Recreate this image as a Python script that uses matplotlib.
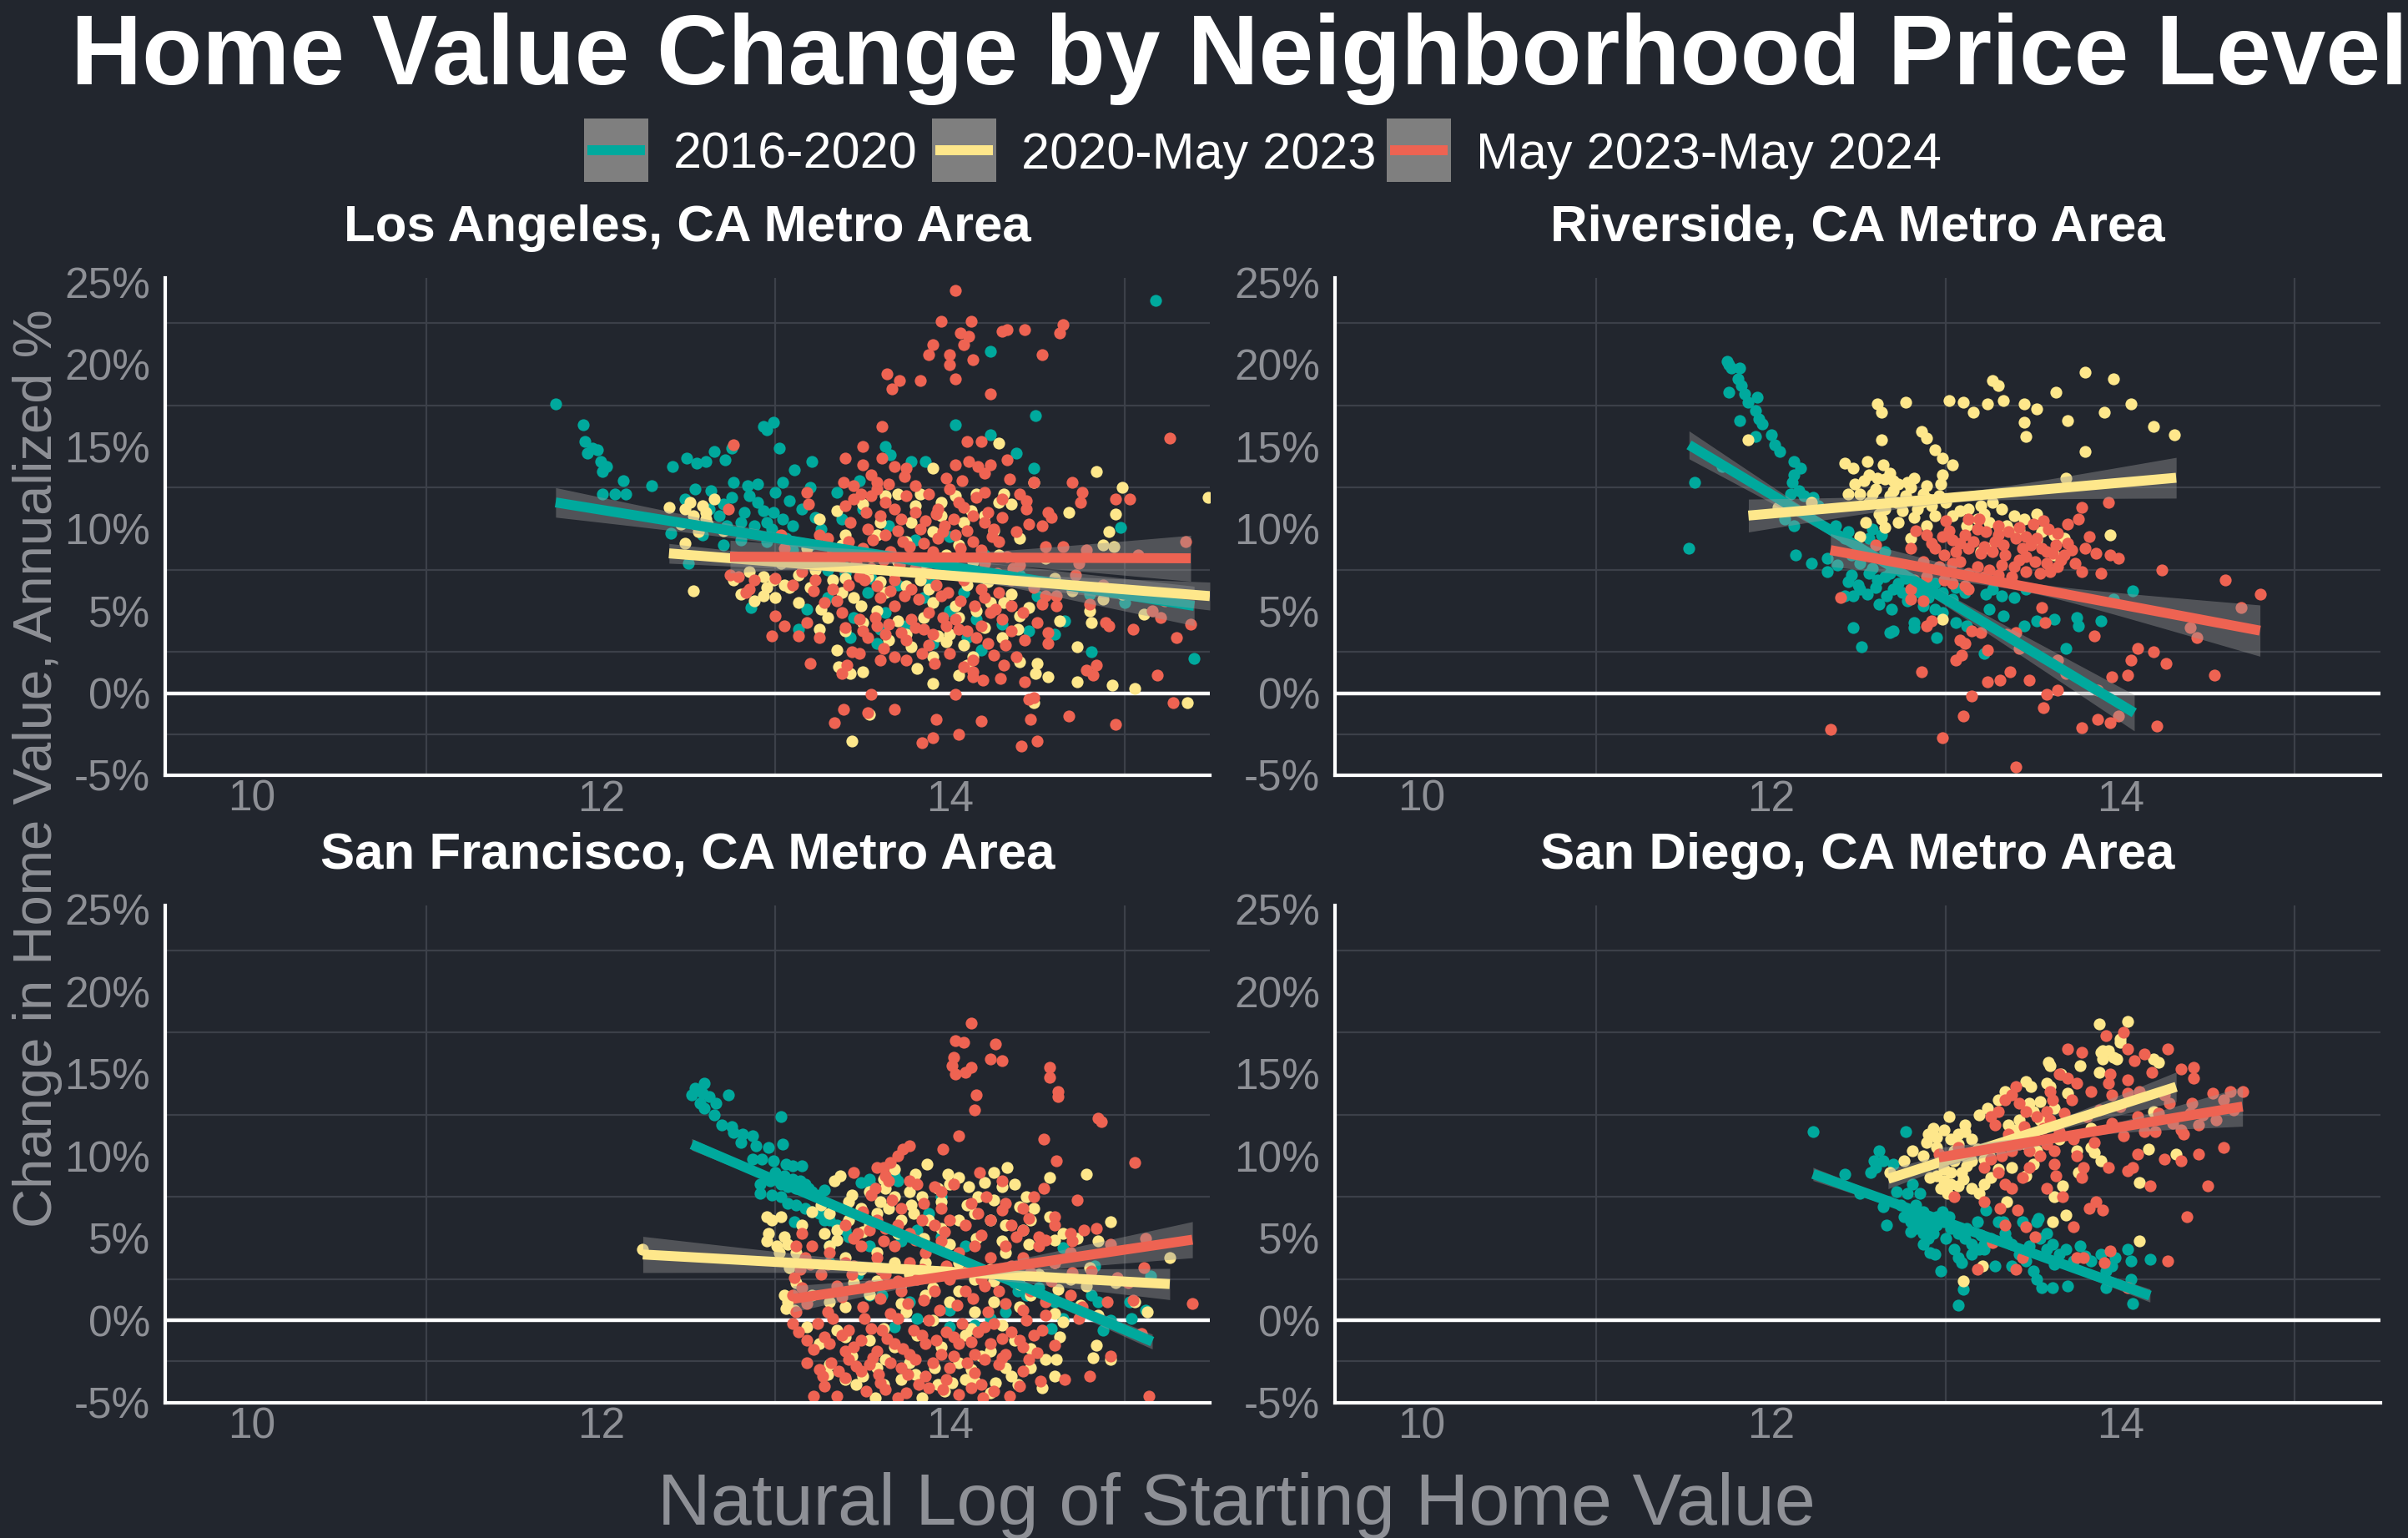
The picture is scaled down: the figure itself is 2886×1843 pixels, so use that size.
import numpy as np
import matplotlib.pyplot as plt
from matplotlib.patches import Rectangle
from matplotlib.lines import Line2D

plt.rcParams['font.family'] = ['Liberation Sans', 'DejaVu Sans']

#Chart labels
title = "Home Value Change by Neighborhood Price Level"
periods = ["2016-2020", "2020-May 2023", "May 2023-May 2024"]
metros = ["Los Angeles, CA Metro Area", "Riverside, CA Metro Area",
          "San Francisco, CA Metro Area", "San Diego, CA Metro Area"]
x_ticks = [10, 12, 14]
y_ticks = [-5, 0, 5, 10, 15, 20, 25]

#Points: (log of starting home value, annualized % change)
la_a = [(11.74,17.6),(11.90,16.3),(11.91,15.3),(11.95,14.9),(11.98,14.8),(11.92,14.6),(12.00,14.1),(12.03,13.8),
        (12.01,13.5),(12.13,12.9),(12.01,12.1),(12.08,12.1),(12.14,12.1),(12.29,12.6),(12.41,13.8),(12.49,14.3),
        (12.55,14.0),(12.60,14.1),(12.65,14.7),(12.71,14.2),(12.75,14.9),(12.93,16.2),(12.99,16.5),(12.95,16.0),
        (13.02,14.9),(12.40,9.7),(12.50,7.9),(12.48,11.8),(12.54,12.4),(12.63,12.3),(12.76,12.8),(12.84,12.6),
        (12.90,12.7),(12.85,12.0),(12.93,11.1),(12.99,11.0),(13.04,10.6),(12.98,10.0),(12.58,9.6),(12.68,10.8),
        (12.80,10.4),(12.88,10.2),(13.11,13.6),(13.21,14.1),(13.04,12.8),(13.08,11.7),(13.15,11.2),(13.23,10.7),
        (13.26,10.0),(13.38,10.6),(13.48,12.9),(13.63,15.0),(13.66,14.5),(13.78,14.1),(13.86,14.1),(14.23,15.7),
        (14.38,14.6),(14.48,13.7),(14.49,16.9),(14.03,16.3),(14.23,20.8),(15.18,23.9),(14.98,10.1),(15.40,2.1),
        (14.81,2.5),(14.18,2.6),(12.86,5.2),(14.66,4.4),(14.50,5.9),(13.38,8.0),(13.53,6.1),(13.63,4.9),
        (13.75,4.1),(13.88,6.9),(14.08,6.1),(13.43,3.4),(13.58,3.0),(13.20,9.0),(13.30,7.5),(14.20,7.0),
        (14.00,9.5),(13.13,3.9),(13.18,5.1),(12.70,11.5),(12.75,11.9),(12.90,11.6),(13.00,12.2),(12.82,11.0),
        (12.95,10.4),(13.10,10.2),(12.62,11.2),(12.72,10.2),(13.06,9.4),(13.10,8.7),(13.25,8.2),(13.40,7.3),
        (13.55,7.0),(13.70,6.6),(13.85,5.8),(14.00,5.0),(14.15,4.5),(14.30,4.2),(14.45,3.8),(14.60,3.6),
        (13.30,5.8),(13.45,4.6),(13.60,3.9),(13.90,3.0),(14.10,3.4),(12.95,9.2),(13.00,8.2),(12.70,9.0),
        (12.80,9.3),(13.20,12.5),(13.35,12.2),(13.50,11.2),(13.65,10.2),(13.80,9.3),(14.20,8.4),(14.40,7.2),
        (14.60,6.8),(14.80,6.0),(15.00,5.5)]
la_b = [(12.39,11.3),(12.48,11.2),(12.51,11.6),(12.53,10.8),(12.58,11.4),(12.60,11.0),(12.46,10.3),(12.54,10.3),
        (12.61,10.3),(12.48,9.1),(12.53,6.2),(12.76,6.9),(12.80,6.0),(12.93,5.9),(13.00,5.8),(12.99,6.9),
        (13.08,6.4),(13.13,5.5),(12.85,7.4),(12.93,7.1),(13.25,10.6),(13.35,11.1),(13.70,12.1),(13.83,12.1),
        (13.90,13.7),(14.15,12.1),(14.28,15.2),(14.28,11.6),(14.31,12.1),(14.35,11.5),(14.48,12.8),(14.68,11.0),
        (14.84,13.5),(14.99,12.5),(14.95,10.9),(14.91,9.8),(14.88,9.0),(14.94,8.9),(15.48,11.9),(14.88,5.7),
        (14.99,6.0),(14.81,4.3),(15.11,4.8),(14.63,4.4),(14.73,2.8),(14.73,0.7),(14.93,0.5),(15.06,0.3),
        (15.36,-0.6),(14.50,1.8),(14.40,1.9),(14.56,1.0),(14.48,-0.6),(14.49,1.2),(14.05,1.1),(13.90,0.6),
        (13.81,1.5),(13.50,1.3),(13.36,1.6),(13.43,1.2),(13.44,-2.9),(13.54,-1.3),(13.35,2.6),(13.40,3.8),
        (13.25,3.9),(13.26,5.1),(13.49,5.3),(13.63,6.1),(13.75,3.6),(13.78,2.8),(13.93,3.5),(13.98,3.1),
        (14.08,2.9),(14.13,2.2),(14.15,5.0),(14.23,5.5),(14.31,5.5),(14.39,3.9),(14.40,4.7),(13.33,6.9),
        (13.38,6.1),(13.53,7.1),(13.68,7.3),(13.83,6.9),(13.88,6.3),(14.03,5.3),(13.23,7.5),(13.13,7.2),
        (13.03,7.9),(13.18,8.8),(13.38,9.0),(13.58,9.6),(13.78,10.4),(13.95,10.8),(14.08,10.4),(14.20,10.8),
        (14.28,8.4),(14.13,8.0),(13.98,8.4),(13.80,11.4),(14.03,12.0),(13.63,12.0),(13.30,8.2),(13.45,8.4),
        (13.55,8.3),(13.70,8.0),(13.85,7.8),(14.00,7.3),(14.10,6.6),(14.22,6.8),(14.35,6.0),(14.45,5.2),
        (13.40,7.0),(13.60,6.8),(13.75,6.5),(13.90,5.5),(14.05,4.6),(14.20,4.0),(14.30,3.4),(13.45,5.8),
        (13.58,5.0),(13.70,4.4),(13.85,4.6),(14.00,3.6),(13.50,4.3),(13.65,3.2),(13.90,2.2),(14.10,1.7),
        (13.30,4.6),(13.20,6.4),(13.12,8.1),(13.05,6.6),(12.95,6.4),(12.88,5.6),(13.40,9.6),(13.60,10.4),
        (13.75,9.2),(13.90,9.8),(14.05,9.0),(14.25,9.9),(14.40,9.4),(14.55,8.2),(14.60,7.0),(14.70,6.2),
        (14.80,5.0),(13.95,11.6),(14.12,11.1),(13.50,11.5),(12.60,10.6),(12.65,11.8),(12.56,9.8),(12.70,9.9)]
la_c = [(14.03,24.5),(13.95,22.6),(14.12,22.6),(14.06,21.9),(14.11,21.7),(14.08,21.2),(13.90,21.2),(13.88,20.6),
        (14.00,20.6),(14.00,20.0),(14.13,20.3),(14.30,22.0),(14.33,22.1),(14.43,22.1),(14.53,20.6),(14.63,21.9),
        (14.65,22.4),(13.64,19.4),(13.71,19.0),(13.67,18.5),(13.83,19.0),(14.03,19.1),(14.23,18.2),(13.61,16.2),
        (12.76,15.1),(15.26,15.5),(13.50,15.0),(13.40,14.3),(13.50,13.9),(13.61,14.3),(13.68,13.8),(13.75,13.7),
        (13.74,13.2),(13.65,12.7),(13.55,13.3),(13.58,12.8),(13.39,12.8),(14.10,15.3),(14.18,15.3),(14.03,13.9),
        (14.11,14.1),(14.16,13.8),(14.23,13.9),(14.20,13.4),(13.98,13.1),(14.07,12.9),(14.34,13.0),(14.33,14.2),
        (14.48,12.8),(14.70,12.8),(14.76,12.2),(14.75,11.6),(14.40,12.1),(14.44,11.7),(14.44,11.2),(14.56,11.0),
        (14.58,10.7),(14.45,10.3),(14.53,10.2),(14.38,9.8),(14.95,11.8),(15.03,11.8),(15.35,9.2),(15.08,8.4),
        (14.55,8.9),(14.65,8.9),(14.78,8.7),(14.74,7.9),(14.72,7.2),(14.88,6.6),(14.80,5.4),(14.61,5.3),
        (14.53,5.4),(14.48,6.4),(14.55,5.9),(14.61,5.9),(14.50,4.3),(14.56,3.7),(14.89,4.3),(14.91,4.1),
        (15.05,3.9),(15.16,5.0),(15.21,4.6),(15.23,5.6),(15.30,3.4),(15.38,4.2),(15.19,1.1),(15.28,-0.6),
        (14.95,-1.9),(14.68,-1.4),(14.78,1.4),(14.82,1.1),(14.84,1.7),(14.48,-0.3),(14.45,-0.4),(14.46,-1.6),
        (14.50,-2.9),(14.41,-3.2),(14.43,0.7),(14.29,0.9),(14.31,1.7),(14.32,2.9),(14.43,3.2),(14.56,3.0),
        (14.19,0.8),(14.13,1.3),(14.13,2.0),(14.03,-0.1),(14.05,-2.5),(13.90,-2.7),(13.84,-3.0),(13.92,-1.6),
        (14.18,-1.7),(13.55,-0.1),(13.68,-1.0),(13.53,-1.2),(13.39,-1.0),(13.34,-1.8),(13.20,1.8),(12.98,3.5),
        (13.05,4.1),(13.00,4.7),(13.13,3.5),(13.41,1.7),(13.38,1.2),(13.44,2.5),(13.60,2.0),(13.68,2.2),
        (13.84,2.4),(13.91,1.8),(14.13,1.0),(12.74,7.2),(12.79,7.1),(12.85,6.3),(12.83,6.1),(12.88,6.9),
        (13.03,9.6),(13.05,8.8),(12.73,11.2),(13.18,12.2),(13.19,11.5),(13.25,9.6),(13.33,8.6),(13.40,11.4),
        (13.49,12.1),(13.55,12.0),(13.63,11.6),(13.75,12.0),(13.88,12.1),(13.93,11.2),(14.05,11.6),(14.13,10.8),
        (14.20,10.4),(14.25,10.0),(13.43,10.4),(13.53,10.0),(13.63,9.6),(13.73,9.2),(13.83,10.0),(13.93,9.4),
        (14.03,9.6),(14.13,9.2),(14.28,9.2),(13.38,7.7),(13.48,7.1),(13.58,6.5),(13.68,6.9),(13.78,6.3),
        (13.88,7.3),(13.98,7.5),(14.08,6.9),(14.18,6.3),(14.28,6.1),(14.35,6.9),(13.33,6.3),(13.28,5.5),
        (13.38,4.9),(13.48,4.5),(13.58,4.1),(13.68,5.3),(13.78,4.5),(13.88,4.9),(13.95,5.9),(14.03,4.5),
        (14.10,3.8),(14.18,4.1),(14.23,4.9),(14.30,4.5),(13.53,3.4),(13.63,3.6),(13.75,3.2),(13.85,3.9),
        (13.98,4.1),(13.25,3.4),(13.18,4.3),(13.23,6.9),(13.45,11.8),(13.52,11.0),(13.60,10.8),(13.68,11.2),
        (13.72,10.6),(13.80,11.0),(13.86,10.5),(13.92,10.9),(13.97,10.2),(14.02,10.6),(14.08,11.3),(14.15,11.9),
        (14.22,11.0),(14.30,10.7),(13.42,9.2),(13.50,8.8),(13.56,9.3),(13.66,8.6),(13.70,9.9),(13.77,8.9),
        (13.85,9.1),(13.90,8.6),(13.96,9.8),(14.06,8.8),(14.10,9.9),(14.18,8.7),(14.24,9.5),(14.33,8.3),
        (14.40,7.8),(13.36,8.3),(13.46,7.9),(13.55,7.6),(13.62,8.1),(13.71,7.8),(13.80,7.6),(13.87,8.2),
        (13.95,7.9),(14.02,7.7),(14.12,7.4),(14.20,7.9),(14.27,7.3),(14.36,7.6),(13.42,6.6),(13.51,6.9),
        (13.60,5.8),(13.66,6.2),(13.74,5.9),(13.82,5.7),(13.92,6.6),(13.99,6.1),(14.06,5.6),(14.14,5.3),
        (14.20,5.8),(14.26,5.1),(14.35,5.3),(14.42,4.9),(13.40,4.0),(13.50,3.8),(13.57,4.6),(13.65,4.2),
        (13.72,3.7),(13.80,4.0),(13.90,3.6),(13.96,4.6),(14.05,3.9),(14.15,3.4),(14.22,3.0),(14.35,3.8),
        (13.48,2.4),(13.62,2.7),(13.75,2.0),(13.88,2.9),(14.00,2.4),(14.08,1.6),(14.25,2.3),(14.38,2.2),
        (13.30,9.4),(13.26,8.1),(13.22,6.2),(13.35,5.6),(13.15,7.4),(13.10,6.6),(13.00,7.0),(13.45,12.6),
        (13.58,12.4),(13.80,12.6),(14.00,12.4),(14.20,12.2),(14.30,11.8)]

rv_a = [(11.75,20.2),(11.76,20.0),(11.82,19.8),(11.77,19.8),(11.81,19.1),(11.83,18.7),(11.85,18.2),(11.87,17.7),
        (11.92,18.0),(11.91,17.2),(11.82,16.6),(11.93,16.7),(11.95,16.4),(11.76,18.3),(11.91,15.6),(12.00,15.7),
        (12.02,15.1),(12.05,14.7),(12.13,14.1),(12.17,13.7),(12.13,13.3),(12.12,12.8),(12.16,12.3),(12.11,12.1),
        (12.19,12.0),(12.24,11.9),(12.27,11.4),(11.56,12.8),(11.53,8.8),(11.72,13.8),(12.05,11.1),(12.08,10.6),
        (12.13,10.2),(12.14,8.4),(12.23,7.9),(12.32,8.2),(12.32,7.4),(12.37,10.2),(12.44,9.8),(12.42,9.4),
        (12.46,8.4),(12.51,7.9),(12.56,9.4),(12.58,10.0),(12.63,9.6),(12.65,8.6),(12.56,7.3),(12.61,6.9),
        (12.65,7.1),(12.73,6.7),(12.44,6.8),(12.51,6.3),(12.47,5.9),(12.42,5.9),(12.62,5.4),(12.69,5.1),
        (12.75,6.1),(12.80,6.3),(12.85,6.1),(12.89,6.9),(12.94,6.7),(12.87,5.3),(12.94,5.1),(13.04,5.7),
        (13.11,6.1),(13.23,6.0),(13.27,6.3),(13.32,5.9),(13.39,5.8),(13.46,6.3),(13.25,5.1),(13.33,4.7),
        (12.82,4.3),(12.98,4.9),(13.06,4.3),(13.12,4.1),(12.47,4.0),(12.52,2.8),(12.68,3.7),(12.70,3.8),
        (12.82,4.0),(12.95,3.4),(13.22,2.4),(13.45,4.1),(13.52,4.4),(13.62,4.5),(13.75,4.6),(13.76,4.1),
        (13.89,4.4),(13.69,2.7),(14.07,6.2),(13.96,5.7),(12.50,6.6),(12.55,6.0),(12.60,6.4),(12.66,5.9),
        (12.70,6.3),(12.78,5.6),(12.83,6.8),(12.90,5.8),(12.98,6.1),(13.06,6.4),(12.58,7.6),(12.68,7.3),
        (12.77,7.0),(12.46,7.2),(12.38,7.8)]
rv_b = [(13.80,19.5),(13.96,19.1),(13.27,19.0),(13.30,18.7),(13.63,18.3),(13.33,17.8),(13.02,17.8),(13.10,17.7),
        (13.16,17.1),(13.24,17.6),(12.61,17.6),(12.63,17.1),(12.77,17.7),(13.45,17.6),(13.52,17.3),(13.91,17.1),
        (14.06,17.6),(13.45,16.5),(13.46,15.6),(13.70,16.6),(14.19,16.2),(14.31,15.7),(13.80,14.7),(11.87,15.4),
        (12.63,15.4),(12.86,15.9),(12.89,15.5),(12.94,14.8),(12.98,14.3),(13.04,13.9),(12.98,13.3),(12.97,12.7),
        (12.42,14.0),(12.47,13.7),(12.55,14.1),(12.64,13.9),(12.48,12.7),(12.53,12.9),(12.56,13.3),(12.61,13.1),
        (12.65,13.0),(12.70,12.9),(12.73,12.7),(12.82,13.1),(12.89,12.6),(12.44,12.1),(12.51,12.1),(12.58,12.1),
        (12.68,12.0),(12.77,12.0),(12.87,12.1),(12.96,12.0),(12.56,11.6),(12.65,11.2),(12.75,11.1),(12.84,11.2),
        (12.94,10.8),(13.04,10.8),(13.13,11.2),(13.20,11.4),(13.27,11.6),(13.32,11.2),(13.18,10.6),(13.25,10.4),
        (13.39,10.8),(13.45,10.6),(13.52,10.9),(12.54,10.4),(12.63,10.6),(12.65,10.1),(12.73,10.4),(12.89,10.2),
        (12.80,9.4),(12.51,9.5),(12.04,11.3),(12.23,11.6),(13.69,13.1),(13.94,9.6),(13.62,9.6),(13.62,8.4),
        (13.68,9.4),(13.52,9.3),(13.31,9.9),(13.38,9.8),(12.98,4.5),(13.20,8.6),(13.25,8.8),(12.60,12.4),
        (12.70,12.3),(12.80,12.5),(12.90,11.8),(12.62,10.9),(12.72,11.6),(12.82,10.7),(12.92,11.4),(13.00,11.6),
        (13.08,11.1),(13.12,10.2),(13.22,10.9),(12.78,12.8),(12.68,13.4),(12.86,11.6),(13.35,10.2),(13.42,9.9),
        (13.55,9.8)]
rv_c = [(13.93,11.6),(13.78,11.3),(13.76,10.6),(13.00,10.5),(13.13,10.6),(13.19,10.6),(13.50,10.3),(13.56,10.5),
        (13.59,10.0),(13.64,9.7),(12.83,9.9),(12.89,9.6),(12.80,8.8),(12.98,9.5),(13.04,9.3),(13.11,9.6),
        (13.18,10.0),(13.23,9.8),(13.30,9.6),(13.36,9.8),(13.40,9.4),(13.46,9.5),(13.49,9.0),(13.55,8.8),
        (13.61,8.5),(13.68,8.4),(13.70,9.1),(13.82,9.5),(13.80,8.8),(13.86,8.5),(13.94,8.4),(13.99,8.2),
        (12.94,8.8),(12.99,8.4),(13.06,8.6),(13.13,8.8),(13.20,8.5),(13.27,8.6),(13.34,8.4),(13.42,8.1),
        (13.51,8.0),(13.58,7.9),(13.64,7.7),(13.08,8.0),(13.18,7.7),(13.25,7.5),(13.32,7.8),(13.39,7.7),
        (13.46,7.4),(13.54,7.3),(12.87,8.0),(12.82,6.9),(12.89,7.1),(12.99,6.9),(13.04,6.7),(13.11,6.5),
        (13.13,6.3),(13.78,7.4),(13.89,7.3),(14.24,7.5),(14.60,6.9),(14.80,6.0),(14.69,5.2),(14.40,4.0),
        (14.44,3.4),(14.54,1.1),(14.21,-2.0),(13.78,-2.1),(13.87,-1.6),(13.94,-1.8),(13.99,-1.4),(13.87,0.2),
        (13.95,1.0),(14.04,1.1),(14.06,2.0),(14.10,2.7),(14.19,2.5),(14.26,1.8),(13.85,3.5),(13.64,2.0),
        (13.69,1.2),(13.64,0.2),(13.58,-0.1),(13.56,-0.9),(13.48,0.8),(13.37,1.3),(13.31,0.8),(13.24,0.7),
        (13.40,3.7),(13.35,3.6),(13.42,2.7),(13.24,2.6),(13.57,4.3),(13.55,5.2),(13.15,3.8),(13.20,3.7),
        (13.08,3.2),(13.11,3.0),(13.09,2.3),(13.06,2.0),(13.15,-0.2),(13.10,-1.4),(12.98,-2.7),(13.40,-4.5),
        (12.86,1.3),(12.34,-2.2),(12.40,5.8),(12.80,5.7),(12.87,5.6),(12.92,4.4),(12.89,4.1),(12.60,9.0),
        (12.80,6.3),(12.92,9.1),(13.02,9.9),(13.08,9.1),(13.16,9.2),(13.22,8.9),(13.28,9.2),(13.33,9.0),
        (13.44,8.8),(13.52,9.4),(13.58,8.6),(13.63,9.0),(13.72,8.7),(12.96,7.7),(13.04,7.9),(13.13,7.3),
        (13.22,7.1),(13.30,7.2),(13.38,7.1),(13.46,8.3),(13.60,7.4),(13.66,8.1),(13.74,7.9),(13.70,10.3),
        (13.30,10.2),(13.42,10.1)]

sf_a = [(12.59,14.4),(12.54,14.1),(12.52,13.7),(12.58,13.8),(12.62,13.6),(12.66,13.2),(12.73,13.7),(12.57,13.2),
        (12.59,12.9),(12.65,12.5),(12.69,11.9),(12.75,11.8),(12.76,11.4),(12.81,11.3),(12.87,11.2),(12.80,10.8),
        (12.89,10.6),(12.96,10.5),(13.04,10.7),(13.03,12.4),(12.87,9.8),(12.92,9.8),(12.99,9.7),(13.06,9.5),
        (13.10,9.4),(13.15,9.4),(13.00,9.0),(13.05,8.8),(13.10,8.6),(13.14,8.5),(12.97,8.5),(13.03,8.3),
        (13.07,8.1),(13.12,8.0),(13.17,8.3),(13.19,8.0),(13.21,7.8),(13.25,7.6),(13.28,7.9),(12.91,8.3),
        (12.91,7.7),(12.98,7.6),(13.03,7.5),(13.07,7.1),(13.12,7.0),(13.17,6.8),(13.21,6.6),(13.25,6.5),
        (13.31,6.1),(13.35,5.8),(13.11,6.0),(13.49,8.4),(13.54,8.6),(13.55,8.2),(13.68,8.8),(13.70,8.5),
        (13.28,6.1),(13.40,5.5),(13.42,5.1),(13.54,4.5),(13.61,1.5),(13.77,1.1),(14.00,0.6),(14.14,-0.3),
        (14.23,0.1),(14.39,1.8),(14.44,1.5),(14.58,-0.5),(14.65,0.1),(14.83,3.3),(14.81,1.5),(14.85,1.1),
        (14.88,-0.6),(14.92,0.0),(15.03,1.1),(15.12,0.6),(15.15,2.7),(15.04,0.1),(14.65,4.4),(14.37,2.3),
        (14.09,4.5),(13.95,5.1),(13.81,5.5),(13.72,4.8),(13.58,3.3),(14.14,3.1),(14.28,2.8),(14.51,2.0),
        (14.60,1.1),(13.47,2.8),(13.31,3.5),(13.88,6.5),(13.95,7.5),(13.31,4.5),(13.54,1.5),(13.68,-0.4),
        (13.81,0.1),(14.00,-0.4),(14.32,0.5)]
sf_b = [(12.24,4.3),(12.95,6.3),(12.98,6.1),(13.03,6.3),(13.05,5.1),(12.96,5.3),(12.95,4.8),(13.01,4.5),
        (13.02,4.1),(13.07,4.6),(13.12,4.1),(13.05,1.5),(13.07,1.1),(13.11,0.6),(13.06,0.7),(13.18,-0.4),
        (13.25,-1.4),(13.31,-2.7),(13.40,-3.6),(13.46,-3.9),(13.57,-4.7),(13.63,-2.4),(13.72,-3.6),(13.84,-4.7),
        (13.93,-3.9),(14.01,-3.8),(14.09,-3.6),(14.14,-3.7),(14.23,-4.4),(14.26,-3.8),(14.39,-3.9),(14.53,-4.1),
        (14.46,-2.9),(14.55,-2.4),(14.61,-2.4),(14.82,-2.3),(14.84,-1.5),(14.63,-1.0),(14.65,-0.1),(15.13,0.5),
        (15.26,3.8),(14.92,6.0),(14.78,8.9),(14.57,8.7),(14.33,9.3),(14.25,9.0),(13.99,8.9),(13.87,9.5),
        (13.68,9.2),(13.37,8.8),(13.34,8.5),(13.44,7.6),(13.54,7.8),(13.63,8.0),(13.68,7.5),(13.77,7.8),
        (13.84,7.5),(13.93,8.0),(14.00,8.3),(14.11,8.1),(14.16,7.5),(14.30,8.1),(14.37,8.3),(14.44,7.5),
        (14.48,6.8),(14.57,6.3),(14.73,5.0),(14.85,4.8),(14.65,5.3),(13.21,6.6),(13.26,7.0),(13.31,6.5),
        (13.35,5.5),(13.42,6.1),(13.49,6.8),(13.54,5.8),(13.58,6.5),(13.65,6.8),(13.72,6.1),(13.79,6.5),
        (13.88,6.1),(13.95,5.6),(14.05,6.1),(14.14,6.5),(14.23,6.1),(14.32,5.8),(14.42,5.5),(14.46,6.1),
        (13.31,4.5),(13.40,3.8),(13.49,3.1),(13.58,4.1),(13.68,3.5),(13.77,2.8),(13.86,3.5),(13.95,2.8),
        (14.05,3.5),(14.14,2.5),(14.23,3.1),(14.32,4.1),(14.42,3.5),(14.51,2.8),(14.60,3.5),(14.69,2.5),
        (14.78,2.1),(14.95,2.3),(15.06,1.1),(13.21,1.5),(13.31,1.1),(13.40,0.8),(13.54,1.6),(13.72,1.0),
        (13.86,1.5),(14.00,1.1),(14.14,0.5),(14.25,1.1),(14.46,1.5),(13.35,-0.6),(13.54,-1.2),(13.68,-1.6),
        (13.81,-0.9),(13.95,-1.6),(14.09,-0.9),(14.23,-1.9),(14.37,-1.2),(14.46,-1.7),(13.44,-2.2),(13.58,-2.9),
        (13.77,-2.6),(13.91,-2.9),(14.05,-2.6),(14.18,-2.2),(14.32,-2.9),(14.92,-2.4),(13.30,-3.3),(13.50,-3.4),
        (13.62,-3.9),(13.80,-3.3),(13.97,-4.3),(14.12,-3.0),(14.35,-3.4),(14.60,-3.4),(13.40,-1.0),(13.62,-0.5),
        (13.75,0.5),(13.90,0.0),(14.12,-0.5),(14.30,-0.3),(14.40,0.8),(14.60,0.4),(14.75,0.9),(14.85,0.3),
        (13.45,2.3),(13.58,2.4),(13.72,2.2),(13.90,2.0),(14.05,1.8),(14.25,2.4),(14.40,2.2),(14.62,1.9),
        (14.80,3.2),(13.35,4.9),(13.50,5.4),(13.70,5.3),(13.85,5.0),(14.00,4.6),(14.15,5.0),(14.30,4.8),
        (14.45,4.6),(14.60,4.9),(13.42,7.2),(13.60,7.2),(13.78,7.0),(13.95,7.2),(14.10,7.0),(14.25,7.3),
        (14.40,6.9),(13.62,8.6),(13.80,8.9),(14.05,8.7),(14.20,8.4),(13.28,5.3),(13.15,5.8),(13.08,3.2),
        (13.12,2.3)]
sf_c = [(14.12,18.1),(14.03,17.0),(14.08,16.9),(14.26,16.8),(14.02,16.0),(14.23,15.9),(14.30,15.8),(14.09,15.1),
        (14.12,15.4),(14.01,15.5),(14.03,15.0),(14.57,15.4),(14.57,14.8),(14.62,13.9),(14.62,13.6),(14.15,13.7),
        (14.14,12.8),(14.85,12.3),(14.54,11.0),(14.61,9.7),(15.06,9.6),(14.87,12.1),(14.05,11.2),(13.96,10.4),
        (14.17,9.0),(13.77,10.6),(13.73,10.4),(13.70,10.0),(13.66,9.6),(13.62,9.3),(13.58,9.3),(13.63,8.8),
        (13.57,8.0),(13.77,8.5),(13.81,8.3),(13.91,8.1),(13.95,7.8),(14.02,8.3),(14.21,7.5),(14.32,7.1),
        (14.42,6.8),(14.48,7.5),(14.54,8.0),(14.60,6.3),(14.30,8.5),(14.73,7.3),(13.15,5.3),(13.12,4.5),
        (13.17,3.8),(13.14,3.1),(13.11,2.6),(13.15,2.0),(13.10,1.5),(13.12,0.5),(13.10,-0.2),(13.13,-0.7),
        (13.18,-1.2),(13.18,-2.6),(13.22,-4.6),(13.35,-4.6),(13.27,-3.4),(13.32,-2.6),(13.42,-2.4),(13.49,-3.1),
        (13.59,-3.3),(13.63,-4.2),(13.70,-4.7),(13.76,-3.3),(13.88,-4.1),(13.96,-4.2),(14.12,-4.1),(14.19,-4.7),
        (14.34,-4.6),(14.52,-3.7),(14.66,-3.6),(14.80,-3.4),(15.14,-4.6),(14.92,-2.2),(14.60,-1.5),(15.10,-0.8),
        (15.39,1.0),(15.05,1.2),(14.90,1.1),(15.11,3.2),(15.02,2.3),(14.96,2.6),(14.81,3.0),(15.12,5.0),
        (14.92,4.6),(14.84,5.6),(14.77,5.5),(14.69,5.3),(13.40,5.8),(13.47,5.3),(13.54,5.5),(13.58,6.1),
        (13.63,5.6),(13.70,5.8),(13.77,5.3),(13.84,6.1),(13.91,5.8),(14.00,6.1),(14.09,5.8),(14.16,6.5),
        (14.23,6.1),(14.35,5.8),(14.42,5.5),(14.51,5.1),(14.60,5.8),(13.21,4.5),(13.31,4.1),(13.40,3.5),
        (13.49,4.5),(13.58,3.8),(13.68,4.5),(13.77,3.5),(13.86,4.1),(13.95,4.8),(14.05,4.1),(14.14,4.5),
        (14.23,3.8),(14.32,4.5),(14.42,3.8),(14.51,4.5),(14.60,3.5),(14.69,4.1),(13.26,2.8),(13.35,2.1),
        (13.44,2.8),(13.54,2.1),(13.63,2.8),(13.72,1.8),(13.81,2.5),(13.91,1.8),(14.00,2.5),(14.09,1.8),
        (14.18,2.5),(14.28,1.8),(14.37,2.5),(14.46,1.8),(14.55,1.1),(14.69,1.5),(14.76,0.8),(13.24,-0.2),
        (13.33,0.1),(13.42,-0.6),(13.51,0.1),(13.61,-0.6),(13.70,0.1),(13.79,-0.6),(13.88,0.0),(13.98,-0.7),
        (14.07,-0.2),(14.16,-0.7),(14.25,-0.2),(14.35,-0.7),(14.44,0.0),(14.53,-0.6),(14.74,0.1),(13.31,-1.4),
        (13.40,-1.9),(13.49,-1.2),(13.58,-1.9),(13.68,-1.4),(13.77,-2.1),(13.86,-1.4),(13.95,-2.1),(14.05,-1.4),
        (14.14,-2.1),(14.23,-1.4),(14.32,-2.1),(14.42,-1.6),(14.48,-0.9),(13.54,-2.7),(13.72,-2.9),(13.86,-3.4),
        (14.00,-2.9),(14.14,-3.2),(14.28,-2.7),(14.42,-3.1),(13.28,-4.0),(13.40,-3.5),(13.52,-4.3),(13.60,-3.8),
        (13.75,-4.4),(13.82,-3.9),(13.98,-3.6),(14.05,-4.5),(14.18,-3.9),(14.25,-4.3),(14.40,-4.0),(14.45,-2.4),
        (13.36,-3.1),(13.46,-2.8),(13.56,-2.3),(13.66,-2.6),(13.80,-2.4),(13.90,-2.6),(14.02,-2.2),(14.10,-2.6),
        (14.20,-2.4),(14.30,-2.3),(14.50,-2.0),(13.28,-1.0),(13.38,-0.9),(13.45,-1.6),(13.55,-0.5),(13.64,-1.1),
        (13.73,-1.7),(13.84,-0.9),(13.92,-1.2),(14.02,-1.0),(14.12,-1.3),(14.20,-0.4),(14.30,-1.1),(14.40,-1.2),
        (13.30,0.5),(13.38,1.4),(13.50,0.8),(13.60,1.3),(13.66,0.4),(13.76,1.0),(13.85,1.2),(13.94,0.6),
        (14.04,0.9),(14.13,1.3),(14.22,0.5),(14.32,1.0),(14.42,0.6),(14.55,0.3),(13.30,3.4),(13.45,3.3),
        (13.60,3.1),(13.70,2.4),(13.84,3.1),(13.98,3.3),(14.10,3.0),(14.20,2.1),(14.35,3.3),(14.46,2.9),
        (14.58,2.4),(14.70,2.9),(13.45,5.0),(13.62,4.8),(13.80,4.9),(13.97,5.4),(14.18,5.2),(14.38,5.1),
        (14.55,4.9),(14.70,4.8),(13.50,6.6),(13.72,6.8),(13.95,6.8),(14.12,7.1),(14.30,6.7),(14.45,6.2),
        (13.67,7.3),(13.85,7.1),(13.55,7.6),(13.65,8.5),(13.45,9.0),(13.20,3.4),(13.18,1.0),(13.22,-1.8),
        (13.25,-3.0)]

sd_a = [(12.24,11.5),(12.77,11.5),(12.42,8.9),(12.62,10.3),(12.59,9.7),(12.57,9.0),(12.64,9.7),(12.60,9.3),
        (12.70,9.5),(12.51,7.7),(12.64,6.9),(12.66,5.8),(12.74,7.0),(12.78,6.7),(12.81,6.3),(12.85,6.0),
        (12.89,5.6),(12.93,5.3),(12.76,6.3),(12.80,6.0),(12.83,5.6),(12.87,5.3),(12.91,6.0),(12.95,6.3),
        (12.99,6.0),(13.03,5.6),(13.07,5.3),(13.11,5.0),(13.15,4.6),(13.19,4.3),(12.87,4.6),(12.91,4.1),
        (12.94,4.0),(12.97,3.0),(13.05,4.3),(13.07,3.8),(13.09,3.5),(13.15,4.0),(13.22,4.3),(13.26,5.0),
        (13.30,6.0),(13.34,5.3),(13.38,4.6),(13.44,6.0),(13.42,4.0),(13.46,3.6),(13.52,6.0),(13.54,5.0),
        (13.58,4.3),(13.61,4.6),(13.65,4.0),(13.69,4.3),(13.73,3.6),(13.77,4.5),(13.83,3.6),(13.89,4.0),
        (13.95,3.3),(13.97,3.8),(14.04,4.3),(14.06,3.6),(14.17,3.7),(14.06,2.5),(14.07,1.0),(13.92,2.0),
        (13.70,2.1),(13.61,2.0),(13.55,2.0),(13.52,2.5),(13.50,3.0),(13.38,3.3),(13.28,3.3),(13.22,4.6),
        (13.18,6.0),(13.23,6.7),(12.85,7.7),(12.81,8.3),(12.78,7.7),(12.72,7.8),(13.07,0.9),(13.10,1.9),
        (13.33,6.0),(13.53,6.2),(13.58,5.3),(12.79,6.5),(12.83,7.0),(12.87,6.6),(12.90,6.2),(12.84,5.8),
        (12.95,5.8),(12.98,6.6),(13.02,6.3),(12.80,5.4),(12.90,5.0),(13.00,5.0),(13.12,5.6),(13.20,5.2),
        (13.35,4.9),(13.48,4.5),(13.62,3.4),(13.80,3.9),(13.92,3.0)]
sd_b = [(13.02,12.4),(13.11,11.9),(12.99,11.6),(13.07,11.3),(13.11,11.5),(12.90,11.3),(12.93,11.7),(12.95,11.1),
        (12.89,10.8),(13.03,11.0),(13.07,10.7),(13.15,11.0),(13.19,12.5),(13.24,12.9),(13.30,13.4),(13.34,13.9),
        (13.46,14.5),(13.49,14.2),(13.58,14.4),(13.60,15.5),(13.66,15.0),(13.77,15.5),(13.89,16.3),(13.93,16.4),
        (13.98,15.9),(13.88,15.1),(14.00,16.9),(14.22,15.7),(13.60,14.2),(13.54,13.3),(13.50,12.7),(13.54,12.2),
        (13.42,12.2),(13.36,11.9),(13.38,11.2),(13.46,10.7),(13.52,10.3),(13.65,11.0),(13.75,10.3),(13.83,11.7),
        (13.85,10.2),(13.89,9.7),(14.16,10.4),(14.19,12.7),(14.32,10.1),(14.11,8.4),(13.83,10.5),(13.77,9.0),
        (13.67,8.2),(13.62,7.5),(13.61,6.0),(13.69,6.4),(13.50,9.5),(13.46,8.8),(13.38,9.3),(13.30,9.2),
        (13.26,8.7),(13.22,8.3),(13.19,7.7),(13.15,8.0),(13.07,8.2),(13.03,8.3),(12.99,8.5),(13.01,7.7),
        (13.09,9.0),(13.15,9.7),(13.22,9.8),(13.11,10.0),(13.05,9.7),(12.99,9.2),(12.95,8.8),(12.91,8.7),
        (12.87,10.0),(12.81,10.3),(12.76,9.7),(12.68,9.0),(13.35,7.2),(13.21,3.3),(13.10,2.4),(14.11,4.8),
        (13.76,9.0),(13.88,18.0),(14.04,18.2),(14.00,17.1),(13.90,16.4),(13.90,15.9),(13.96,16.0),(14.19,15.9),
        (13.59,15.7),(12.95,10.5),(13.00,9.8),(13.05,10.3),(13.12,9.4),(13.18,10.4),(13.25,10.0),(13.03,9.0),
        (12.97,8.0),(13.10,8.6),(13.30,10.5),(13.40,11.6),(13.48,13.2),(13.62,12.9),(13.70,13.8)]
sd_c = [(13.70,16.5),(13.78,16.3),(13.92,17.3),(14.02,17.5),(14.04,16.5),(14.08,15.8),(14.14,16.2),(14.27,16.5),
        (14.18,15.1),(14.35,15.3),(14.42,15.4),(14.42,14.7),(14.04,14.6),(13.94,15.0),(13.93,14.4),(13.95,13.7),
        (14.00,13.0),(14.04,13.8),(14.11,13.9),(14.25,13.7),(14.28,13.2),(14.41,13.2),(14.53,13.8),(14.63,13.9),
        (14.70,13.9),(14.59,13.4),(14.47,12.5),(14.45,11.9),(14.35,11.6),(14.36,11.3),(14.14,11.5),(14.20,11.5),
        (14.02,11.2),(13.85,10.8),(14.59,10.5),(14.45,10.1),(14.35,9.7),(14.25,9.8),(14.10,10.1),(13.93,9.3),
        (14.04,9.1),(14.07,9.3),(14.50,8.2),(14.17,8.2),(14.38,6.3),(14.27,3.6),(13.91,3.5),(13.94,4.2),
        (13.75,3.8),(13.79,3.8),(14.04,2.0),(13.86,7.2),(13.90,6.7),(13.82,6.8),(13.73,5.7),(13.67,7.5),
        (13.58,8.0),(13.78,8.7),(13.79,9.3),(13.75,10.0),(13.62,9.5),(13.63,8.8),(13.62,10.3),(13.73,11.0),
        (13.81,12.4),(13.83,13.9),(13.75,14.4),(13.70,14.7),(13.65,15.0),(13.60,13.9),(13.61,13.4),(13.58,12.7),
        (13.52,12.4),(13.46,12.7),(13.42,13.2),(13.38,13.7),(13.40,14.2),(13.34,13.4),(13.30,12.7),(13.26,12.4),
        (13.28,11.9),(13.36,11.3),(13.42,10.7),(13.48,10.3),(13.38,10.3),(13.32,10.0),(13.26,9.8),(13.22,9.3),
        (13.30,9.0),(13.34,8.3),(13.38,8.0),(13.44,8.7),(13.48,9.3),(13.54,10.0),(13.58,10.7),(13.65,11.5),
        (13.50,11.3),(13.56,11.7),(13.07,10.5),(12.96,10.1),(13.05,7.5),(13.22,7.2),(13.31,6.8),(13.41,6.7),
        (13.34,5.8),(13.46,5.7),(13.51,5.1),(13.27,4.7),(13.44,3.8),(13.40,3.1),(13.18,3.1),(13.45,11.8),
        (13.60,12.2),(13.68,12.6),(13.72,13.4),(13.88,12.8),(13.95,12.0),(14.10,12.4),(14.22,12.6),(14.30,12.0),
        (14.40,12.6),(14.55,12.2),(14.65,12.8)]

#Linear fits: (x start, x end, y start, y end)
la_fit = [(11.74, 15.40, 11.6, 5.3), (12.39, 15.49, 8.5, 5.9), (12.74, 15.38, 8.3, 8.2)]
rv_fit = [(11.53, 14.08, 15.1, -1.2), (11.87, 14.32, 10.8, 13.1), (12.34, 14.80, 8.7, 3.8)]
sf_fit = [(12.52, 15.16, 10.7, -1.3), (12.24, 15.26, 4.0, 2.2), (13.10, 15.39, 1.3, 4.9)]
sd_fit = [(12.24, 14.17, 8.9, 1.5), (12.67, 14.32, 8.6, 14.2), (12.96, 14.70, 9.9, 13.0)]
#95% CI half widths (left end, narrowest, right end), in % points
la_ci = [(0.9, 0.3, 1.2), (0.6, 0.25, 0.85), (1.0, 0.3, 1.4)]
rv_ci = [(0.85, 0.25, 1.1), (1.0, 0.3, 1.24), (1.0, 0.3, 1.56)]
sf_ci = [(0.35, 0.15, 0.45), (1.1, 0.25, 0.95), (0.8, 0.25, 1.1)]
sd_ci = [(0.4, 0.15, 0.4), (0.6, 0.25, 0.9), (0.6, 0.25, 1.2)]

BG = "#22262e"
GREY = "#8e9096"
GRID = "#3c4049"
colors = ["#00a99d", "#fee78b", "#ee6352"]

W, H = 2886, 1843
fig = plt.figure(figsize=(W/100, H/100), dpi=100, facecolor=BG)

def fx(p):
    return p / W

def fy(p):
    return 1 - p / H

#panel boxes in pixels (left, top, right, bottom)
boxes = [(197.5, 333, 1450, 929), (1599.5, 333, 2853, 929),
         (197.5, 1084.5, 1450, 1680.5), (1599.5, 1084.5, 2853, 1680.5)]
points = [(la_a, la_b, la_c), (rv_a, rv_b, rv_c), (sf_a, sf_b, sf_c), (sd_a, sd_b, sd_c)]
fits = [la_fit, rv_fit, sf_fit, sd_fit]
cis = [la_ci, rv_ci, sf_ci, sd_ci]

for k in range(4):
    x0, y0, x1, y1 = boxes[k]
    ax = fig.add_axes([fx(x0), fy(y1), (x1-x0)/W, (y1-y0)/H])
    ax.set_facecolor(BG)
    ax.set_xlim(9.5, 15.49)
    ax.set_ylim(-5, 25.26)
    for s in ["top", "right"]:
        ax.spines[s].set_visible(False)
    for s in ["left", "bottom"]:
        ax.spines[s].set_color("white")
        ax.spines[s].set_linewidth(3)
        ax.spines[s].set_zorder(10)
    ax.set_xticks(x_ticks)
    ax.set_xticklabels([str(t) for t in x_ticks])
    ax.set_yticks(y_ticks)
    ax.set_yticklabels([f"{t}%" for t in y_ticks])
    ax.set_xticks([11, 13, 15], minor=True)
    ax.set_yticks([-2.5, 2.5, 7.5, 12.5, 17.5, 22.5], minor=True)
    ax.tick_params(which="both", length=0, colors=GREY, labelsize=37)
    ax.tick_params(axis="y", pad=12.5)
    ax.tick_params(axis="x", pad=3.5)
    ax.grid(which="minor", color=GRID, lw=1.6, zorder=0)
    ax.set_axisbelow(True)
    ax.axhline(0, color="white", lw=3.2, zorder=1.5)

    for i, pts in enumerate(points[k]):
        arr = np.array(pts)
        ax.scatter(arr[:, 0], arr[:, 1], s=105, color=colors[i], linewidths=0, zorder=2)

    for i, (xa, xb, ya, yb) in enumerate(fits[k]):
        hl, hm, hr = cis[k][i]
        c = np.mean(np.array(points[k][i])[:, 0])
        c = min(max(c, xa + 0.05), xb - 0.05)
        xs = np.linspace(xa, xb, 120)
        line = ya + (yb - ya) * (xs - xa) / (xb - xa)
        edge = np.where(xs < c, hl, hr)
        dist = np.where(xs < c, (xs - c) / (xa - c), (xs - c) / (xb - c))
        hw = np.sqrt(hm**2 + (edge**2 - hm**2) * dist**2)
        ax.fill_between(xs, line - hw, line + hw, color="#999999", alpha=0.4, lw=0, zorder=3 + 2*i)
        ax.plot([xa, xb], [ya, yb], color=colors[i], lw=8.6, solid_capstyle="butt", zorder=4 + 2*i)

    fig.text(fx((x0 + x1) / 2), fy(y0 - 44), metros[k], ha="center", va="baseline",
             fontsize=44.5, fontweight="bold", color="white")

#title
fig.text(fx(85), fy(101), title, ha="left", va="baseline", fontsize=85, fontweight="bold", color="white")

#legend
key_left = [700, 1117, 1662]
for i in range(3):
    kx = key_left[i]
    fig.patches.append(Rectangle((fx(kx), fy(218)), 77/W, 76/H, transform=fig.transFigure,
                                 facecolor="#7f7f7f", edgecolor="none"))
    fig.add_artist(Line2D([fx(kx + 4), fx(kx + 73)], [fy(180), fy(180)], transform=fig.transFigure,
                          color=colors[i], lw=8.6, solid_capstyle="butt"))
    fig.text(fx(kx + 107), fy(202), periods[i], ha="left", va="baseline", fontsize=44, color="white")

#axis titles
fig.text(fx(62), fy(921), "Change in Home Value, Annualized %", rotation=90, rotation_mode="anchor",
         ha="center", va="baseline", fontsize=47, color=GREY)
fig.text(fx(1482), fy(1827), "Natural Log of Starting Home Value", ha="center", va="baseline",
         fontsize=63.5, color=GREY)

fig.savefig("out.png", dpi=100, facecolor=BG)
